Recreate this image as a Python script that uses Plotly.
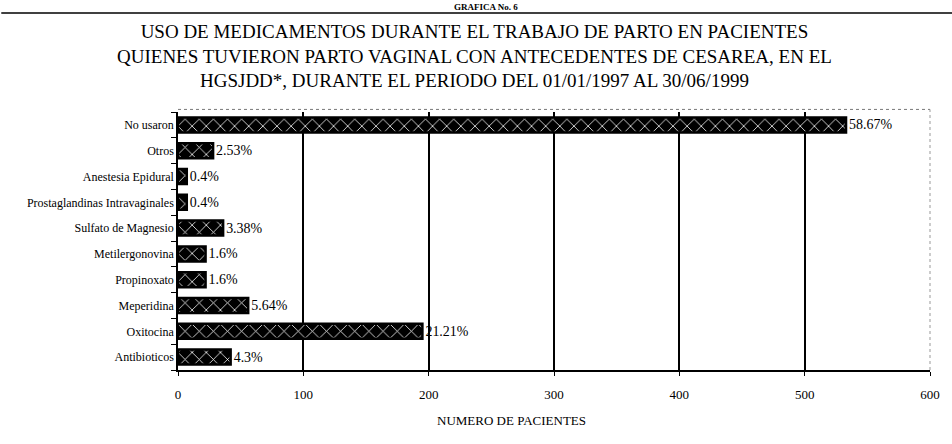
import plotly.graph_objects as go

# Data (top to bottom as displayed)
categories = ["No usaron", "Otros", "Anestesia Epidural", "Prostaglandinas Intravaginales",
              "Sulfato de Magnesio", "Metilergonovina", "Propinoxato", "Meperidina",
              "Oxitocina", "Antibioticos"]
patients = [533, 28, 7, 7, 36, 22, 22, 56, 195, 42]
percent_labels = ["58.67%", "2.53%", "0.4%", "0.4%", "3.38%", "1.6%", "1.6%", "5.64%",
                  "21.21%", "4.3%"]
x_ticks = [0, 100, 200, 300, 400, 500, 600]

title_lines = ["USO DE MEDICAMENTOS DURANTE EL TRABAJO DE PARTO EN PACIENTES",
               "QUIENES TUVIERON PARTO VAGINAL CON ANTECEDENTES DE CESAREA, EN EL",
               "HGSJDD*, DURANTE EL PERIODO DEL 01/01/1997 AL 30/06/1999"]

SERIF = "Liberation Serif"

fig = go.Figure()
fig.add_trace(go.Bar(
    x=patients, y=categories, orientation="h",
    text=percent_labels, textposition="outside", cliponaxis=False,
    textfont=dict(family=SERIF, size=14, color="black"),
    marker=dict(color="black",
                line=dict(color="black", width=2.5),
                pattern=dict(shape="x", fgcolor="white", bgcolor="black",
                             size=10, solidity=0.15, fillmode="replace")),
    hoverinfo="x+y",
))

fig.update_layout(
    width=952, height=444,
    margin=dict(l=178, r=15, t=112, b=74),
    paper_bgcolor="white", plot_bgcolor="white",
    showlegend=False, bargap=0.42,
    font=dict(family=SERIF, color="black"),
)
fig.update_xaxes(range=[0, 600], tickvals=x_ticks, ticktext=[str(v) for v in x_ticks],
                 showgrid=True, gridcolor="black", gridwidth=1.5,
                 showline=True, linecolor="black", linewidth=1.5,
                 ticks="outside", ticklen=4, tickcolor="black", ticklabelstandoff=8,
                 tickfont=dict(family=SERIF, size=13), zeroline=False)
fig.update_yaxes(categoryorder="array", categoryarray=categories[::-1],
                 showline=True, linecolor="black", linewidth=1.5,
                 ticks="outside", tickson="boundaries", ticklen=5, tickcolor="black",
                 tickfont=dict(family=SERIF, size=12), showgrid=False)

# plot frame (dotted top / right)
fig.add_shape(type="line", xref="paper", yref="paper", x0=0, x1=1, y0=1.01, y1=1.01,
              line=dict(color="#777", width=1, dash="dot"))
fig.add_shape(type="line", xref="paper", yref="paper", x0=1, x1=1, y0=0, y1=1.01,
              line=dict(color="#999", width=1, dash="dot"))

# page header line and heading
fig.add_shape(type="line", xref="paper", yref="paper", x0=-0.235, x1=1.03,
              y0=1.3837, y1=1.3837, line=dict(color="black", width=1.5))
fig.add_annotation(text="<b>GRAFICA No. 6</b>", xref="paper", yref="paper",
                   x=0.41, y=1.3837, yanchor="bottom", showarrow=False, borderpad=0,
                   font=dict(family=SERIF, size=9, color="black"))

fig.add_annotation(text="<br>".join(title_lines), xref="paper", yref="paper",
                   x=0.394, y=1.217, xanchor="center", yanchor="middle", showarrow=False,
                   font=dict(family=SERIF, size=19, color="black"))
fig.add_annotation(text="NUMERO DE PACIENTES", xref="paper", yref="paper",
                   x=0.444, y=-0.194, xanchor="center", yanchor="middle", showarrow=False,
                   font=dict(family=SERIF, size=13, color="black"))

fig.write_html("out.html", config={"displayModeBar": False},
               post_script="document.body.style.margin='0';")
